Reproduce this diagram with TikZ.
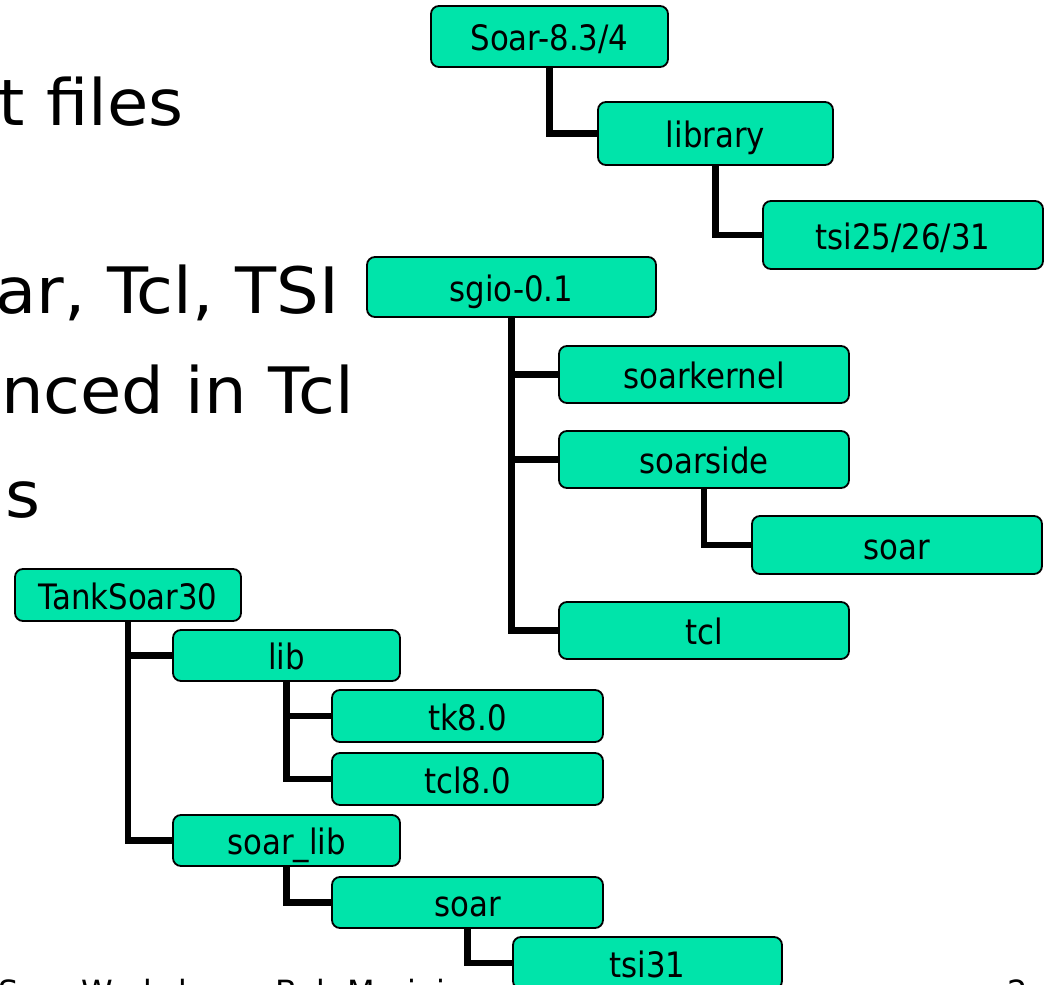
\documentclass[tikz,border=0pt]{standalone}
\usepackage{fontspec}
\setmainfont{DejaVu Sans}
\newfontfamily\boxfont[FakeStretch=0.88]{DejaVu Sans}
\newfontfamily\slidefont[FakeStretch=1.05]{DejaVu Sans}
\usetikzlibrary{backgrounds}
\definecolor{mint}{RGB}{0,228,170}
\tikzset{
  folder/.style={draw=black, line width=1.8pt, fill=mint, rounded corners=8pt,
    inner sep=0pt, font=\boxfont\fontsize{35}{40}\selectfont,
    text height=28pt, text depth=0pt},
  link/.style={line width=6.5pt},
  slide/.style={inner sep=0pt, font=\slidefont\fontsize{64}{70}\selectfont, anchor=base east},
  foot/.style={inner sep=0pt, font=\fontsize{32}{36}\selectfont, anchor=base west},
}
\begin{document}
\begin{tikzpicture}[x=1pt,y=-1pt]
\useasboundingbox (0,0) rectangle (1045,985);
\clip (0,0) rectangle (1045,985);

% slide text (cut off at the left)
\node[slide] (l1) at (184,125) {t files};
\node[slide] (l2) at (339,313) {ar, Tcl, TSI};
\node[slide] (l3) at (354,413) {nced in Tcl};
\node[slide] (l4) at (41,517) {s};
\node[foot] (ft) at (-2,1003) {Soar Workshop – Bob Marinier};
\node[foot] (pg) at (1007.5,1003) {2};

% Soar-8.3/4 tree
\node[folder, minimum width=237pt, minimum height=61pt] (soar834) at (549.5,36.5) {Soar-8.3/4};
\node[folder, minimum width=235pt, minimum height=63pt] (library) at (715.5,133.5) {library};
\node[folder, minimum width=280pt, minimum height=68pt] (tsiA) at (903,235) {tsi25/26/31};

% sgio tree
\node[folder, minimum width=289pt, minimum height=60pt] (sgio) at (511.5,287) {sgio-0.1};
\node[folder, minimum width=290pt, minimum height=57pt] (kernel) at (704,374.5) {soarkernel};
\node[folder, minimum width=290pt, minimum height=57pt] (side) at (704,459.5) {soarside};
\node[folder, minimum width=290pt, minimum height=58pt] (soarU) at (897,545) {soar};
\node[folder, minimum width=290pt, minimum height=57pt] (tcl) at (704,630.5) {tcl};

% TankSoar tree
\node[folder, minimum width=226pt, minimum height=52pt] (tank) at (128,595) {TankSoar30};
\node[folder, minimum width=227pt, minimum height=51pt] (lib) at (286.5,655.5) {lib};
\node[folder, minimum width=271pt, minimum height=52pt] (tk) at (467.5,716) {tk8.0};
\node[folder, minimum width=271pt, minimum height=52pt] (tcleight) at (467.5,779) {tcl8.0};
\node[folder, minimum width=227pt, minimum height=51pt] (soarlib) at (286.5,840.5) {soar\_lib};
\node[folder, minimum width=271pt, minimum height=51pt] (soarL) at (467.5,902.5) {soar};
\node[folder, minimum width=269pt, minimum height=52pt] (tsiB) at (647.5,963) {tsi31};

\begin{scope}[on background layer]
\fill[white] (0,0) rectangle (1045,985);
\draw[link] (soar834.south) |- (library.west);
\draw[link] (library.south) |- (tsiA.west);
\draw[link] (sgio.south) |- (tcl.west);
\draw[link] (sgio.south |- kernel.west) -- (kernel.west);
\draw[link] (sgio.south |- side.west) -- (side.west);
\draw[link] (side.south) |- (soarU.west);
\draw[link] (tank.south) |- (soarlib.west);
\draw[link] (tank.south |- lib.west) -- (lib.west);
\draw[link] (lib.south) |- (tcleight.west);
\draw[link] (lib.south |- tk.west) -- (tk.west);
\draw[link] (soarlib.south) |- (soarL.west);
\draw[link] (soarL.south) |- (tsiB.west);
\end{scope}
\end{tikzpicture}
\end{document}
